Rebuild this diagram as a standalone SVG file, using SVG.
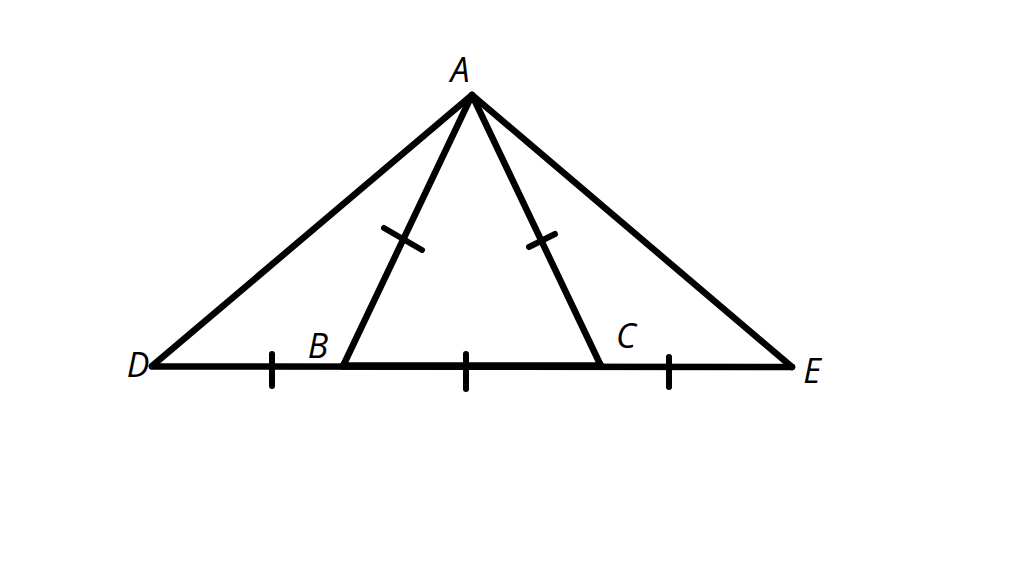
<svg xmlns="http://www.w3.org/2000/svg" width="1024" height="579" viewBox="0 0 1024 579">
<style>
.ln{stroke:#000;stroke-width:6.5;stroke-linecap:round;stroke-linejoin:round;fill:none}
.tk{stroke:#000;stroke-width:6;stroke-linecap:round;fill:none}
.lb{font-family:"Open Sans","Liberation Sans",sans-serif;font-style:italic;font-size:34px;fill:#000;text-anchor:middle}
</style>
<rect width="1024" height="579" fill="#fff"/>
<g id="lines">
<polyline class="ln" points="152,366 472,95 792,367"/>
<line class="ln" x1="152" y1="366.5" x2="792" y2="367"/>
<line class="ln" x1="343" y1="366" x2="601" y2="366" style="stroke-width:7.5"/>
<line class="ln" x1="472" y1="95" x2="343" y2="366"/>
<line class="ln" x1="472" y1="95" x2="601" y2="366"/>
</g>
<g id="ticks">
<line class="tk" x1="272" y1="354" x2="272" y2="386"/>
<line class="tk" x1="466" y1="354" x2="466" y2="389"/>
<line class="tk" x1="669" y1="357" x2="669" y2="387"/>
<line class="tk" x1="384" y1="228" x2="422" y2="250"/>
<line class="tk" x1="529" y1="247" x2="555" y2="234"/>
</g>
<g id="labels">
<text class="lb" x="460" y="82">A</text>
<text class="lb" x="138" y="377">D</text>
<text class="lb" x="318" y="358">B</text>
<text class="lb" x="626" y="348">C</text>
<text class="lb" x="812" y="383">E</text>
</g>
</svg>
